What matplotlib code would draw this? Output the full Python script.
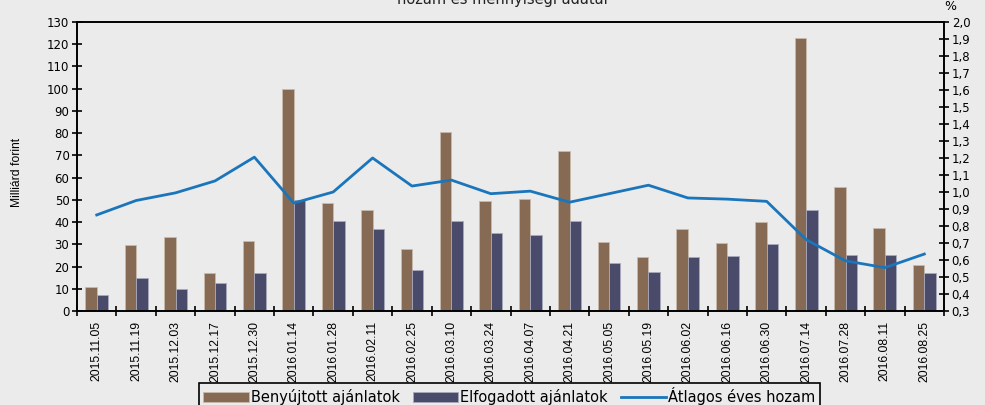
import matplotlib
matplotlib.use("Agg")
import matplotlib.pyplot as plt
import numpy as np
from matplotlib.ticker import FuncFormatter, MultipleLocator

# Adatok (leolvasva az ábráról)
datumok = ["2015.11.05", "2015.11.19", "2015.12.03", "2015.12.17", "2015.12.30",
           "2016.01.14", "2016.01.28", "2016.02.11", "2016.02.25", "2016.03.10",
           "2016.03.24", "2016.04.07", "2016.04.21", "2016.05.05", "2016.05.19",
           "2016.06.02", "2016.06.16", "2016.06.30", "2016.07.14", "2016.07.28",
           "2016.08.11", "2016.08.25"]
benyujtott = [11, 29.5, 33.5, 17, 31.5, 100, 48.5, 45.5, 28, 80.5, 49.5,
              50.5, 72, 31, 24.5, 37, 30.5, 40, 123, 56, 37.5, 20.5]
elfogadott = [7, 15, 10, 12.5, 17, 50, 40.5, 37, 18.5, 40.5, 35,
              34, 40.5, 21.5, 17.5, 24.3, 24.8, 30.2, 45.3, 25.3, 25.3, 17]
hozam = [0.865, 0.95, 0.995, 1.065, 1.205, 0.935, 1.0, 1.2, 1.035, 1.07, 0.99,
         1.005, 0.94, 0.99, 1.04, 0.965, 0.958, 0.945, 0.72, 0.595, 0.555, 0.635]

hatter = "#ebebeb"
barna = "#876a53"
kek_szurke = "#4a4a6b"
vonal = "#1a75bb"
keskeny = ["Liberation Sans", "DejaVu Sans"]

plt.rcParams["font.family"] = ["DejaVu Sans"]

fig = plt.figure(figsize=(9.85, 4.05), dpi=100, facecolor=hatter)
ax = fig.add_axes([0.0782, 0.2321, 0.8802, 0.7136], facecolor=hatter)

x = np.arange(len(datumok))
w = 0.29
b1 = ax.bar(x - w / 2, benyujtott, width=w, color=barna, edgecolor="#c9b9ab",
            linewidth=0.6, label="Benyújtott ajánlatok", zorder=2)
b2 = ax.bar(x + w / 2, elfogadott, width=w, color=kek_szurke, edgecolor="#a9a9bd",
            linewidth=0.6, label="Elfogadott ajánlatok", zorder=2)

ax.set_xlim(-0.5, len(datumok) - 0.5)
ax.set_ylim(0, 130)
ax.yaxis.set_major_locator(MultipleLocator(10))
ax.set_xticks(x)
ax.set_xticklabels(datumok, rotation=90, family=keskeny, fontsize=8.7)
ax.set_xticks(np.arange(-0.5, len(datumok)), minor=True)
ax.tick_params(axis="x", which="major", length=0, pad=7)
ax.tick_params(axis="x", which="minor", direction="inout", length=7, width=1.2)
ax.tick_params(axis="y", direction="inout", length=7, width=1.2, labelsize=8.5, pad=2)
for s in ax.spines.values():
    s.set_linewidth(1.2)
ax.set_ylabel("Milliárd forint", family=keskeny, fontsize=8.7)
ax.yaxis.set_label_coords(-0.062, 0.48)

ax2 = ax.twinx()
l1, = ax2.plot(x, hozam, color=vonal, linewidth=2, label="Átlagos éves hozam", zorder=3)
ax2.set_ylim(0.3, 2.0)
ax2.yaxis.set_major_locator(MultipleLocator(0.1))
ax2.yaxis.set_major_formatter(FuncFormatter(lambda v, p: f"{v:.1f}".replace(".", ",")))
ax2.tick_params(axis="y", direction="inout", length=7, width=1.2, labelsize=8.5, pad=2)
for s in ax2.spines.values():
    s.set_linewidth(1.2)
fig.text(0.965, 0.968, "%", fontsize=9, ha="center", va="bottom")

fig.text(0.51, 1.003, "hozam és mennyiségi adatai", fontsize=10.5, ha="center",
         va="center", color="#222222")

leg = fig.legend([b1, b2, l1], ["Benyújtott ajánlatok", "Elfogadott ajánlatok", "Átlagos éves hozam"],
                 loc="upper left", bbox_to_anchor=(199 / 985, 22 / 405), ncol=3,
                 borderaxespad=0, frameon=True, fancybox=False, fontsize=10.5,
                 handlelength=3.1, handletextpad=0.15, columnspacing=0.9, borderpad=0.3,
                 facecolor=hatter, edgecolor="black", framealpha=1)
leg.get_frame().set_linewidth(1.2)

fig.savefig("out.png", dpi=100, facecolor=hatter)
